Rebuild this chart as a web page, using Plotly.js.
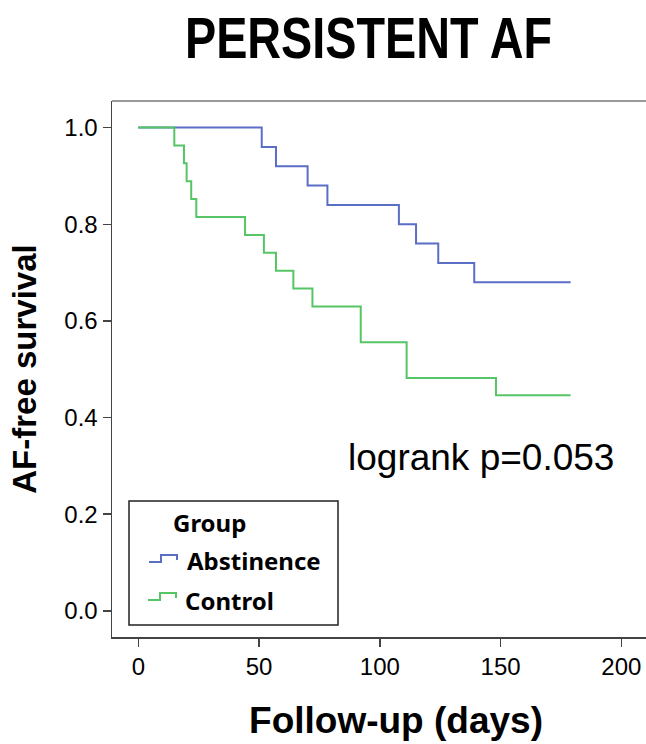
<!DOCTYPE html>
<html>
<head>
<meta charset="utf-8">
<script src="https://cdn.plot.ly/plotly-3.0.1.min.js"></script>
<style>html,body{margin:0;padding:0;background:#fff;overflow:hidden;}#chart{width:680px;height:744px;}</style>
</head>
<body>
<div id="chart"></div>
<script>
// Kaplan-Meier step data
const abstinenceDays = [0, 51.1, 57.0, 70.1, 78.3, 107.9, 115.0, 124.2, 139.1, 179.0];
const abstinenceSurv = [1.0, 0.96, 0.92, 0.88, 0.84, 0.80, 0.76, 0.72, 0.68, 0.68];
const controlDays = [0, 14.9, 18.9, 20.0, 21.9, 24.0, 44.2, 52.0, 57.0, 64.2, 72.1, 92.1, 111.1, 148.1, 179.0];
const controlSurv = [1.0, 0.963, 0.926, 0.889, 0.852, 0.815, 0.778, 0.741, 0.704, 0.667, 0.630, 0.556, 0.482, 0.446, 0.446];
const groupNames = ["Abstinence", "Control"];
const legendTitle = "Group";
const xTickVals = [0, 50, 100, 150, 200];
const yTickVals = [0.0, 0.2, 0.4, 0.6, 0.8, 1.0];
const pValueText = "logrank p=0.053";

const colors = ["#5a6ec6", "#55c565"];

// plot-area geometry (pixels) used only to place the hand-built legend box
const W = 680, H = 744, ML = 112, MT = 101, MB = 107;
const PW = W - ML, PH = H - MT - MB;
const px = v => (v - ML) / PW;
const py = v => (H - MB - v) / PH;

const traces = [
  {x: abstinenceDays, y: abstinenceSurv, name: groupNames[0], mode: "lines", showlegend: false,
   line: {shape: "hv", color: colors[0], width: 2}},
  {x: controlDays, y: controlSurv, name: groupNames[1], mode: "lines", showlegend: false,
   line: {shape: "hv", color: colors[1], width: 2}}
];

const legendFont = {family: "Noto Sans, sans-serif", size: 24, weight: "bold", color: "#000"};
const stepIcon = (x0, yLow, color) => ({
  type: "path", xref: "paper", yref: "paper",
  path: `M ${px(x0)},${py(yLow)} H ${px(x0 + 12)} V ${py(yLow - 7)} H ${px(x0 + 28)} V ${py(yLow - 2)}`,
  line: {color: color, width: 2}
});

const layout = {
  width: W, height: H,
  margin: {l: ML, r: 0, t: MT, b: MB},
  paper_bgcolor: "#fff", plot_bgcolor: "#fff",
  font: {family: "Liberation Sans, Arial, sans-serif", color: "#000"},
  title: {text: "PERSISTENT AF", font: {family: "Liberation Sans, Arial", size: 57, weight: "bold", color: "#000"},
          xref: "paper", x: px(368.5), xanchor: "center", yref: "container", y: 0.9756, yanchor: "top"},
  xaxis: {range: [-10.9, 224.3], tickvals: xTickVals, ticks: "outside", ticklen: 8, tickcolor: "#444", tickwidth: 1.5,
          showline: true, linecolor: "#444", linewidth: 1.5, showgrid: false, zeroline: false,
          tickfont: {size: 24, color: "#000"},
          title: {text: "Follow-up (days)", font: {size: 37, weight: "bold", color: "#000"}, standoff: 28}},
  yaxis: {range: [-0.054, 1.055], tickvals: yTickVals, tickformat: ".1f", ticks: "outside", ticklen: 8, tickcolor: "#444", tickwidth: 1.5,
          showline: true, linecolor: "#444", linewidth: 1.5, showgrid: false, zeroline: false,
          tickfont: {size: 24, color: "#000"},
          title: {text: "AF-free survival", font: {size: 33, weight: "bold", color: "#000"}, standoff: 18}},
  showlegend: false,
  shapes: [
    {type: "line", xref: "paper", yref: "paper", x0: 0, x1: 1, y0: 1, y1: 1, line: {color: "#999", width: 2}},
    {type: "rect", xref: "paper", yref: "paper", x0: px(129), x1: px(338), y0: py(625), y1: py(501),
     line: {color: "#222", width: 1.5}, fillcolor: "#fff", layer: "above"},
    stepIcon(149, 562, colors[0]),
    stepIcon(148, 600, colors[1])
  ],
  annotations: [
    {text: pValueText, xref: "x", yref: "y", x: 142.1, y: 0.318, showarrow: false,
     font: {size: 37, color: "#000"}, xanchor: "center", yanchor: "middle"},
    {text: legendTitle, xref: "paper", yref: "paper", x: px(171), y: py(522), xanchor: "left", yanchor: "middle",
     showarrow: false, font: legendFont},
    {text: groupNames[0], xref: "paper", yref: "paper", x: px(185), y: py(560), xanchor: "left", yanchor: "middle",
     showarrow: false, font: legendFont},
    {text: groupNames[1], xref: "paper", yref: "paper", x: px(183), y: py(600), xanchor: "left", yanchor: "middle",
     showarrow: false, font: legendFont}
  ]
};

Plotly.newPlot("chart", traces, layout, {displayModeBar: false, staticPlot: true}).then(() => {
  const t = document.querySelector("#chart .gtitle");
  if (t) { t.setAttribute("textLength", "367"); t.setAttribute("lengthAdjust", "spacingAndGlyphs"); }
});
</script>
</body>
</html>
